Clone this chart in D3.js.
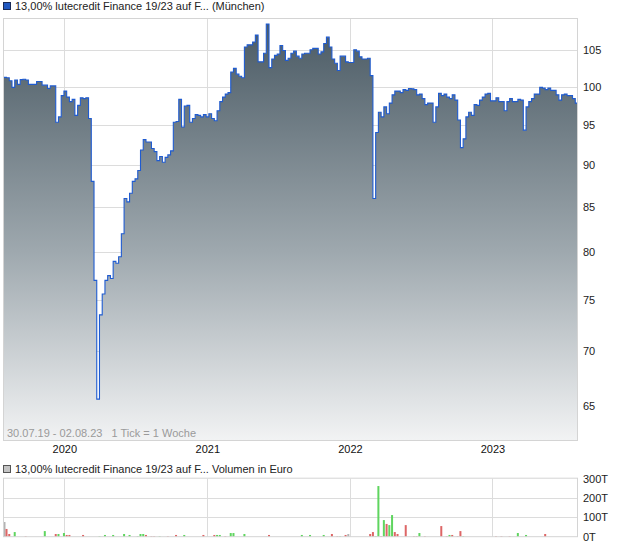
<!DOCTYPE html>
<html>
<head>
<meta charset="utf-8">
<script src="https://cdn.jsdelivr.net/npm/d3@7"></script>
<style>
  body { margin: 0; background: #fff; }
  svg { display: block; font-family: "Liberation Sans", Arial, sans-serif; }
</style>
</head>
<body>
<div id="chart"></div>
<script>
// weekly closes, first tick 30.07.2019, 1 Tick = 1 Woche
const startDate = new Date(2019, 6, 30);
const closes = [
  101.25, 101.2, 100.8, 99.9, 100.9, 100.3, 100.95, 101.0, 100.9, 100.3,
  100.3, 100.3, 100.7, 100.7, 100.2, 100.2, 99.75, 100.1, 100.1, 95.3,
  96.0, 98.8, 99.4, 98.6, 98.0, 98.3, 96.2, 97.5, 98.5, 98.4,
  98.5, 95.8, 88.0, 77.0, 65.6, 73.5, 75.6, 77.0, 77.5, 77.2,
  79.0, 78.8, 79.5, 82.0, 86.0, 85.6, 86.6, 88.0, 88.3, 89.3,
  91.8, 93.1, 92.8, 92.8, 92.0, 91.6, 90.5, 91.0, 90.3, 90.9,
  91.2, 91.7, 95.3, 95.4, 98.3, 94.7, 97.4, 97.5, 95.3, 95.8,
  96.3, 96.2, 96.0, 96.3, 96.0, 96.4, 95.8, 95.5, 96.8, 98.0,
  98.6, 99.0, 99.2, 102.0, 102.5, 101.7, 101.4, 101.2, 105.5, 105.8,
  105.8, 106.2, 107.2, 103.4, 103.4, 104.6, 108.8, 102.6, 103.8, 104.3,
  104.5, 105.7, 105.0, 103.6, 103.9, 104.6, 104.9, 104.2, 103.9, 104.5,
  104.6, 104.6, 105.1, 105.3, 105.3, 104.5, 104.8, 106.0, 106.9, 105.5,
  103.8, 103.2, 102.2, 104.2, 104.2, 103.4, 103.3, 103.3, 105.1, 104.9,
  104.1, 103.8, 103.8, 103.9, 101.5, 86.0, 94.0, 96.6, 96.0, 97.3,
  96.4, 97.8, 98.9, 99.4, 99.4, 99.2, 99.6, 99.5, 99.75, 99.7,
  99.6, 98.9, 99.0, 98.4, 97.6, 97.8, 97.8, 95.3, 97.3, 99.1,
  98.8, 99.0, 98.6, 98.4, 98.9, 98.2, 95.6, 92.1, 93.2, 96.0,
  96.6, 96.2, 97.6, 97.5, 98.2, 98.6, 99.0, 99.1, 98.1, 98.1,
  98.5, 98.0, 98.0, 96.8, 98.0, 98.4, 98.0, 98.0, 98.3, 98.2,
  94.3, 97.3, 98.0, 98.4, 99.0, 99.0, 99.9, 99.8, 99.6, 99.8,
  99.5, 99.5, 98.9, 98.2, 98.9, 99.0, 98.8, 98.8, 98.4, 97.8
];

// volume in thousand euro (T), by week index; dir: 1 up, -1 down, 0 unchanged
const volWeeks = [0, 1, 2, 4, 8, 15, 19, 20, 22, 23, 24, 29, 35, 37, 40, 44, 46, 49, 50, 51,
  52, 54, 55, 57, 60, 63, 66, 73, 77, 78, 79, 81, 83, 84, 88, 97, 109, 112, 117, 120,
  122, 123, 125, 126, 134, 135, 136, 137, 138, 139, 140, 141, 142, 143, 144, 147, 150, 151, 152, 154,
  160, 162, 163, 164, 166, 167, 168, 180, 182, 185, 188, 191, 198];
const volValues = [76, 40, 14, 24, 3, 29, 14, 14, 19, 9, 9, 9, 3, 9, 9, 14, 9, 3, 14, 14,
  9, 3, 3, 3, 3, 9, 9, 9, 9, 9, 9, 3, 19, 19, 14, 9, 9, 9, 9, 14,
  3, 3, 9, 14, 14, 24, 3, 262, 3, 86, 66, 60, 112, 24, 14, 60, 3, 3, 19, 3,
  55, 3, 9, 9, 3, 29, 3, 3, 3, 3, 19, 9, 14];
const volDir = [0, -1, -1, 1, -1, 1, -1, 1, 1, -1, -1, -1, 1, 1, 1, 1, 1, 1, 1, 1,
  -1, -1, -1, 1, -1, -1, 1, -1, -1, 1, 1, -1, 1, 1, 1, -1, 1, 1, 1, -1,
  -1, 1, -1, 0, -1, -1, 1, 1, -1, 1, -1, 1, 1, -1, -1, -1, -1, -1, 1, -1,
  -1, -1, 1, -1, -1, -1, 1, -1, -1, -1, 1, 1, -1];

const priceTicks = [65, 70, 75, 80, 85, 90, 95, 100, 105];
const volTicks = [0, 100, 200, 300];
const yearTicks = [new Date(2020, 0, 1), new Date(2021, 0, 1), new Date(2022, 0, 1), new Date(2023, 0, 1)];

const title = "13,00% lutecredit Finance 19/23 auf F... (München)";
const volTitle = "13,00% lutecredit Finance 19/23 auf F... Volumen in Euro";
const rangeNote = "30.07.19 - 02.08.23   1 Tick = 1 Woche";

const W = 620, H = 546;
const pLeft = 3, pRight = 578;
const pTop = 18, pBottom = 441;
const vTop = 478.7, vBottom = 536.7;

const weekDate = w => d3.timeDay.offset(startDate, w * 7);
const series = closes.map((c, i) => ({ date: weekDate(i), value: c }));
series.push({ date: new Date(2023, 7, 8), value: closes[closes.length - 1] });

const x = d3.scaleTime()
  .domain([new Date(2019, 6, 28), new Date(2023, 7, 8)])
  .range([pLeft, pRight]);
const y = d3.scaleLog()
  .domain([62.0, 109.7])
  .range([pBottom, pTop]);
const yv = d3.scaleLinear()
  .domain([0, 300])
  .range([vBottom, vTop]);

const svg = d3.select("#chart").append("svg")
  .attr("width", W)
  .attr("height", H);

const defs = svg.append("defs");
const grad = defs.append("linearGradient")
  .attr("id", "fillGrad")
  .attr("gradientUnits", "userSpaceOnUse")
  .attr("x1", 0).attr("y1", pTop)
  .attr("x2", 0).attr("y2", pBottom);
grad.append("stop").attr("offset", "0%").attr("stop-color", "#485862");
grad.append("stop").attr("offset", "55%").attr("stop-color", "#9ea8ae");
grad.append("stop").attr("offset", "100%").attr("stop-color", "#f2f3f4");

defs.append("clipPath").attr("id", "plotClip")
  .append("rect")
  .attr("x", pLeft).attr("y", pTop)
  .attr("width", pRight - pLeft).attr("height", pBottom - pTop);

// --- price panel ---
const grid = svg.append("g").attr("stroke", "#dcdcdc").attr("stroke-width", 1);
grid.selectAll(".hg").data(priceTicks).join("line")
  .attr("x1", pLeft).attr("x2", pRight)
  .attr("y1", d => Math.round(y(d)) + 0.5).attr("y2", d => Math.round(y(d)) + 0.5);
grid.selectAll(".vg").data(yearTicks).join("line")
  .attr("x1", d => Math.round(x(d)) + 0.5).attr("x2", d => Math.round(x(d)) + 0.5)
  .attr("y1", pTop).attr("y2", pBottom);

const area = d3.area()
  .curve(d3.curveStepAfter)
  .x(d => x(d.date))
  .y0(pBottom)
  .y1(d => y(d.value));
const line = d3.line()
  .curve(d3.curveStepAfter)
  .x(d => x(d.date))
  .y(d => y(d.value));

const plot = svg.append("g").attr("clip-path", "url(#plotClip)");
plot.append("path")
  .datum(series)
  .attr("fill", "url(#fillGrad)")
  .attr("d", area);
plot.append("path")
  .datum(series)
  .attr("fill", "none")
  .attr("stroke", "#1f5bd0")
  .attr("stroke-width", 1.1)
  .attr("d", line);

svg.append("rect")
  .attr("x", pLeft + 0.5).attr("y", pTop + 0.5)
  .attr("width", pRight - pLeft - 1).attr("height", pBottom - pTop - 1)
  .attr("fill", "none").attr("stroke", "#d4d4d4");

svg.append("text")
  .attr("x", 7).attr("y", 437)
  .attr("font-size", 11).attr("fill", "#9a9a9a")
  .style("white-space", "pre")
  .text(rangeNote);

const yAxis = d3.axisRight(y).tickValues(priceTicks).tickFormat(d3.format("d")).tickSize(0).tickPadding(0);
svg.append("g")
  .attr("transform", `translate(${pRight + 5},0)`)
  .call(yAxis)
  .call(g => g.select(".domain").remove())
  .call(g => g.selectAll("text").attr("font-size", 11).attr("fill", "#222").attr("font-family", null));

const xAxis = d3.axisBottom(x).tickValues(yearTicks).tickFormat(d3.timeFormat("%Y")).tickSize(0).tickPadding(0);
svg.append("g")
  .attr("transform", `translate(0,${pBottom + 4})`)
  .call(xAxis)
  .call(g => g.select(".domain").remove())
  .call(g => g.selectAll("text").attr("font-size", 11).attr("fill", "#111").attr("font-family", null));

// legend
svg.append("rect")
  .attr("x", 3.5).attr("y", 2.5).attr("width", 7).attr("height", 7)
  .attr("fill", "#2058c0").attr("stroke", "#1a2a55");
svg.append("text")
  .attr("x", 15).attr("y", 10)
  .attr("font-size", 11).attr("fill", "#222")
  .text(title);

// --- volume panel ---
svg.append("rect")
  .attr("x", 3.5).attr("y", 465.5).attr("width", 7).attr("height", 7)
  .attr("fill", "#c4c4c4").attr("stroke", "#555");
svg.append("text")
  .attr("x", 15).attr("y", 473)
  .attr("font-size", 11).attr("fill", "#222")
  .text(volTitle);

const vgrid = svg.append("g").attr("stroke", "#dcdcdc").attr("stroke-width", 1);
vgrid.selectAll(".hv").data(volTicks.slice(1, 3)).join("line")
  .attr("x1", pLeft).attr("x2", pRight)
  .attr("y1", d => Math.round(yv(d)) + 0.5).attr("y2", d => Math.round(yv(d)) + 0.5);
vgrid.selectAll(".vv").data(yearTicks).join("line")
  .attr("x1", d => Math.round(x(d)) + 0.5).attr("x2", d => Math.round(x(d)) + 0.5)
  .attr("y1", vTop).attr("y2", vBottom);

const vols = volWeeks.map((w, i) => ({ date: weekDate(w), value: volValues[i], dir: volDir[i] }));
const volColor = d => d.dir > 0 ? "#5fd55f" : d.dir < 0 ? "#dd6666" : "#b4b4b4";
svg.append("g").selectAll("rect").data(vols).join("rect")
  .attr("x", d => Math.max(pLeft + 0.5, x(d.date) - 1))
  .attr("width", 2)
  .attr("y", d => yv(d.value))
  .attr("height", d => yv(0) - yv(d.value))
  .attr("fill", volColor);

svg.append("rect")
  .attr("x", pLeft + 0.5).attr("y", vTop - 0.5)
  .attr("width", pRight - pLeft - 1).attr("height", vBottom - vTop + 0.5)
  .attr("fill", "none").attr("stroke", "#d4d4d4");

const vAxis = d3.axisRight(yv).tickValues(volTicks).tickFormat(d => d + "T").tickSize(0).tickPadding(0);
svg.append("g")
  .attr("transform", `translate(${pRight + 5},0)`)
  .call(vAxis)
  .call(g => g.select(".domain").remove())
  .call(g => g.selectAll("text").attr("font-size", 11).attr("fill", "#222").attr("font-family", null));
</script>
</body>
</html>
